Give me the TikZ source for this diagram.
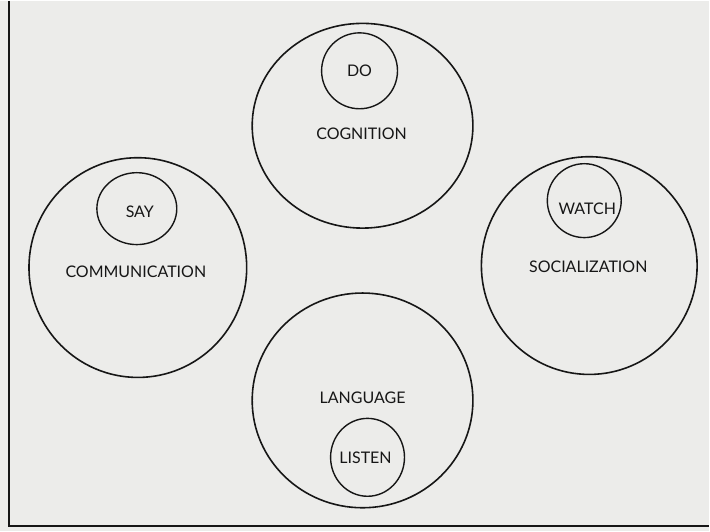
\documentclass[tikz,border=0pt]{standalone}
\usepackage{fontspec}
\setmainfont{Lato}
\usetikzlibrary{shapes.geometric}
\definecolor{paper}{RGB}{236,236,234}
\definecolor{ink}{RGB}{22,22,22}

\begin{document}
\begin{tikzpicture}[x=1pt,y=-1pt,inner sep=0pt,outer sep=0pt,
    every node/.style={font=\fontsize{16}{18}\selectfont, text=ink},
    area/.style={draw=ink, line width=1.6pt, ellipse, minimum width=218pt, minimum height=218pt},
    skill/.style={draw=ink, line width=1.4pt, ellipse, minimum width=76pt, minimum height=76pt}]
    % page and frame
    \fill[paper] (0,0) rectangle (710,531);
    \draw[ink, line width=1.8pt] (9,0) -- (9,526) -- (710,526);

    % cognition
    \node[area, minimum width=221pt, minimum height=205pt] (cognition) at (363,125) {};
    \node (cognition_lbl) at (362,133) {COGNITION};
    \node[skill] (do) at (360,70) {};
    \node (do_lbl) at (do.center) {DO};

    % communication
    \node[area, minimum height=220pt] (communication) at (138,267) {};
    \node (communication_lbl) at (136,271) {COMMUNICATION};
    \node[skill, minimum width=80pt, minimum height=72pt] (say) at (137,208) {};
    \node (say_lbl) at (140,211) {SAY};

    % socialization
    \node[area, minimum width=216pt] (socialization) at (590,265) {};
    \node (socialization_lbl) at (589,266) {SOCIALIZATION};
    \node[skill, minimum width=74pt, minimum height=74pt] (watch) at (585,200) {};
    \node (watch_lbl) at (588,208) {WATCH};

    % language
    \node[area, minimum width=221pt, minimum height=215pt] (language) at (363,400) {};
    \node (language_lbl) at (363,397) {LANGUAGE};
    \node[skill, minimum width=74pt, minimum height=78pt] (listen) at (368,457) {};
    \node (listen_lbl) at (366,457) {LISTEN};
\end{tikzpicture}
\end{document}
